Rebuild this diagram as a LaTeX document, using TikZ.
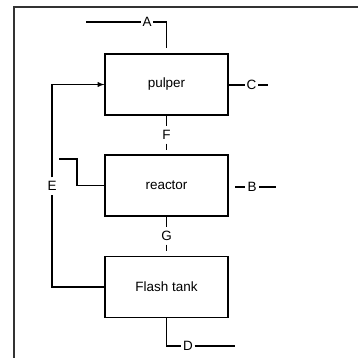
\documentclass[tikz,border=0pt]{standalone}
\usepackage{fontspec}
\setmainfont{Liberation Sans}
\usepackage{tikz}

\begin{document}
\begin{tikzpicture}[x=0.03cm, y=-0.03cm, line width=1pt,
    font=\fontsize{11.5}{13}\selectfont,
    unitbox/.style={draw, minimum width=3.69cm, minimum height=1.83cm, inner sep=0pt},
    streamlbl/.style={fill=white, inner sep=1pt},
    gaplbl/.style={fill=white, inner sep=0.1cm}]
        \useasboundingbox (0,0) rectangle (358,358);

        % Frame (left and top only)
        \draw[line width=1.4pt, black!80] (14,358) -- (14,7) -- (358,7);

        % Units
        \node[unitbox] (pulper) at (166.5,84.5) {pulper};
        \node[unitbox] (reactor) at (166.5,185.5) {reactor};
        \node[unitbox] (flash) at (166.5,287) {Flash tank};

        % Stream A into pulper
        \coordinate (aStart) at (86,22);
        \coordinate (aCorner) at (166.5,22);
        \coordinate (aEnd) at (166.5,48);
        \node[streamlbl] (A) at (147,22) {A};
        \draw (aStart) -- (A) -- (aCorner) -- (aEnd);

        % Stream C out of pulper
        \node[streamlbl] (C) at (251.5,85) {C};
        \coordinate (cEnd) at (268,85);
        \draw (pulper.east |- C) -- (C) -- (cEnd);

        % Stream F pulper -> reactor
        \node[gaplbl] (F) at (166.5,135) {F};
        \coordinate (fEnd) at (166.5,150);
        \draw (pulper.south) -- (F) -- (fEnd);

        % Stream B
        \coordinate (bStart) at (235,187);
        \coordinate (bEnd) at (276,187);
        \node[streamlbl, inner sep=2pt] (B) at (252,187) {B};
        \draw (bStart) -- (B) -- (bEnd);

        % Feed into reactor
        \coordinate (rStart) at (59,159);
        \coordinate (rCorner) at (77,159);
        \draw (rStart) -- (rCorner) |- (reactor.west);

        % Stream G reactor -> flash tank
        \node[gaplbl] (G) at (166.5,236) {G};
        \coordinate (gEnd) at (166.5,251);
        \draw (reactor.south) -- (G) -- (gEnd);

        % Recycle E: flash tank -> pulper
        \node[gaplbl] (E) at (52,186) {E};
        \draw (flash.west) -| (E);
        \draw[-latex] (E) |- (pulper.west);

        % Stream D out of flash tank
        \coordinate (dEnd) at (235,346);
        \node[streamlbl] (D) at (188,346) {D};
        \draw (flash.south) |- (D) -- (dEnd);
\end{tikzpicture}
\end{document}
